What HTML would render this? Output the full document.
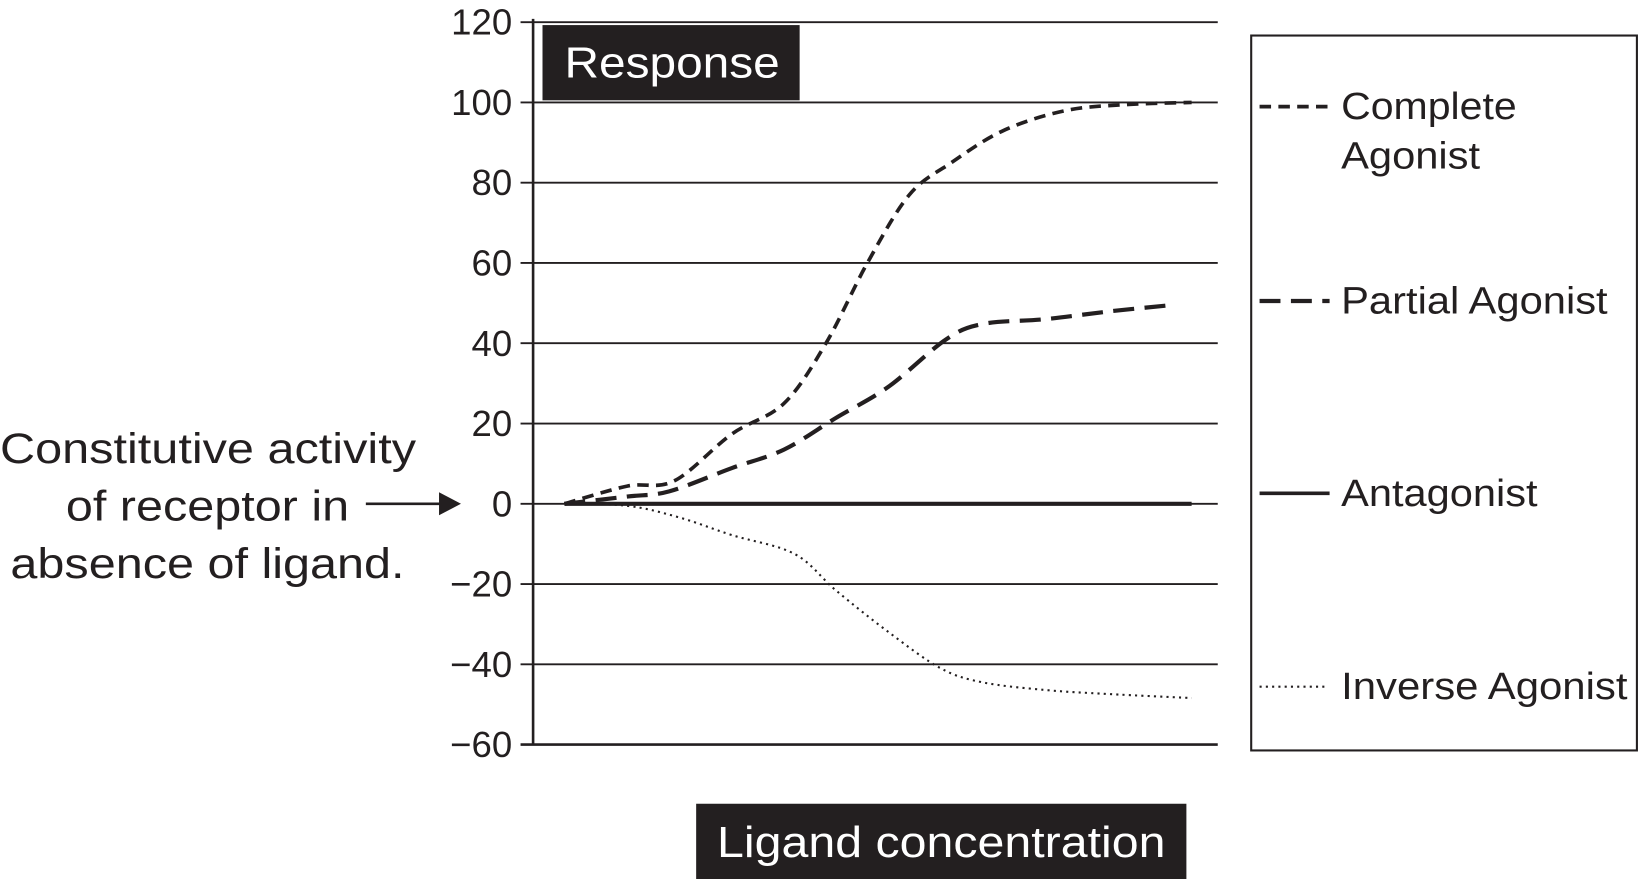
<!DOCTYPE html>
<html><head><meta charset="utf-8">
<style>
html,body{margin:0;padding:0;background:#fff;}
svg{display:block;font-family:"Liberation Sans",sans-serif;}
</style></head>
<body>
<svg id="chart" width="1639" height="879" viewBox="0 0 1568 841" preserveAspectRatio="none" xmlns="http://www.w3.org/2000/svg">
<g id="grid"></g>
<g id="ticks"></g>
<line x1="510" y1="18" x2="510" y2="712" stroke="#231f20" stroke-width="2.5"/>
<g id="series"></g>
<rect x="519" y="24" width="246" height="72" fill="#231f20"/>
<text x="540" y="74" font-size="42" fill="#fff" textLength="206" lengthAdjust="spacingAndGlyphs">Response</text>
<rect x="666" y="769" width="469" height="72" fill="#231f20"/>
<text x="686" y="820" font-size="42" fill="#fff" textLength="429" lengthAdjust="spacingAndGlyphs">Ligand concentration</text>
<g font-size="41" fill="#231f20">
<text x="0" y="443" textLength="398" lengthAdjust="spacingAndGlyphs">Constitutive activity</text>
<text x="63" y="498" textLength="271" lengthAdjust="spacingAndGlyphs">of receptor in</text>
<text x="10" y="553" textLength="377" lengthAdjust="spacingAndGlyphs">absence of ligand.</text>
</g>
<line x1="350" y1="482" x2="422" y2="482" stroke="#231f20" stroke-width="2.5"/>
<polygon points="420,471 441,482 420,493" fill="#231f20"/>
<rect x="1197" y="34" width="369" height="684" fill="none" stroke="#231f20" stroke-width="2"/>
<g font-size="36" fill="#231f20">
<g>
<line x1="1205" y1="102" x2="1272" y2="102" stroke="#231f20" stroke-width="3.5" stroke-dasharray="11,7"/>
<text x="1283" y="114" textLength="168" lengthAdjust="spacingAndGlyphs">Complete</text><text x="1283" y="161" textLength="133" lengthAdjust="spacingAndGlyphs">Agonist</text></g>
<g>
<line x1="1205" y1="288" x2="1272" y2="288" stroke="#231f20" stroke-width="4" stroke-dasharray="20,10"/>
<text x="1283" y="300" textLength="255" lengthAdjust="spacingAndGlyphs">Partial Agonist</text></g>
<g>
<line x1="1205" y1="472" x2="1272" y2="472" stroke="#231f20" stroke-width="3.5"/>
<text x="1283" y="484" textLength="188" lengthAdjust="spacingAndGlyphs">Antagonist</text></g>
<g>
<line x1="1205" y1="657" x2="1268" y2="657" stroke="#231f20" stroke-width="2" stroke-dasharray="2,4"/>
<text x="1283" y="669" textLength="274" lengthAdjust="spacingAndGlyphs">Inverse Agonist</text></g>
</g>
</svg>
<script>
const yTicks=[120,100,80,60,40,20,0,-20,-40,-60];
const yTickLabels=["120","100","80","60","40","20","0","\u221220","\u221240","\u221260"];
const completeX=[0,1,1.75,2.67,3.5,4.17,4.83,5.5,6.17,7,8,9,10];
const completeY=[0,4.4,5.7,17.4,25,40,60,77,85,93,98,99.5,100];
const partialX=[0,1,1.67,2.67,3.5,4.33,5.17,6.08,6.67,7.67,8.67,9.67];
const partialY=[0,1.8,3.1,8.9,13.5,21.4,29.2,40.9,44.8,46,47.9,49.5];
const antagonistX=[0,10];
const antagonistY=[0,0];
const inverseX=[0,1,1.83,2.67,3.67,4.33,5.17,6,6.67,7.67,8.67,10];
const inverseY=[0,-0.5,-3.4,-7.8,-12.5,-21.6,-32,-41,-44.5,-46.4,-47.4,-48.4];
const NS="http://www.w3.org/2000/svg";
function ys(v){return 482-v*3.84;}
function xs(v){return 540+v*60;}
const grid=document.getElementById('grid'),ticks=document.getElementById('ticks'),series=document.getElementById('series');
yTicks.forEach((t,i)=>{
 const l=document.createElementNS(NS,'line');
 
 
 l.setAttribute('x1',498);l.setAttribute('x2',1165);l.setAttribute('y1',ys(t));l.setAttribute('y2',ys(t));
 l.setAttribute('stroke','#231f20');l.setAttribute('stroke-width',t===-60?2.5:1.8);
 grid.appendChild(l);
 const tx=document.createElementNS(NS,'text');
 
 
 tx.setAttribute('x',490);tx.setAttribute('y',ys(t)+12);tx.setAttribute('text-anchor','end');
 tx.setAttribute('font-size','35');tx.setAttribute('fill','#231f20');
 tx.textContent=yTickLabels[i];ticks.appendChild(tx);
});
function smooth(X,Y){
 const p=X.map((x,i)=>[xs(x),ys(Y[i])]);
 let d='M'+p[0][0]+','+p[0][1];
 for(let i=0;i<p.length-1;i++){
  const p0=p[Math.max(0,i-1)],p1=p[i],p2=p[i+1],p3=p[Math.min(p.length-1,i+2)];
  const c1=[p1[0]+(p2[0]-p0[0])/6,p1[1]+(p2[1]-p0[1])/6],c2=[p2[0]-(p3[0]-p1[0])/6,p2[1]-(p3[1]-p1[1])/6];
  d+=` C${c1[0]},${c1[1]} ${c2[0]},${c2[1]} ${p2[0]},${p2[1]}`;
 }
 return d;
}
function addSeries(name,X,Y,w,dash){
 const p=document.createElementNS(NS,'path');
 
 
 p.setAttribute('d',smooth(X,Y));p.setAttribute('fill','none');p.setAttribute('stroke','#231f20');
 p.setAttribute('stroke-width',w);if(dash)p.setAttribute('stroke-dasharray',dash);
 series.appendChild(p);
}
addSeries('antagonist-line',antagonistX,antagonistY,4,null);
addSeries('complete-agonist-line',completeX,completeY,3.5,'11,7');
addSeries('partial-agonist-line',partialX,partialY,4,'20,10');
addSeries('inverse-agonist-line',inverseX,inverseY,2,'2,4');
</script>
</body></html>
